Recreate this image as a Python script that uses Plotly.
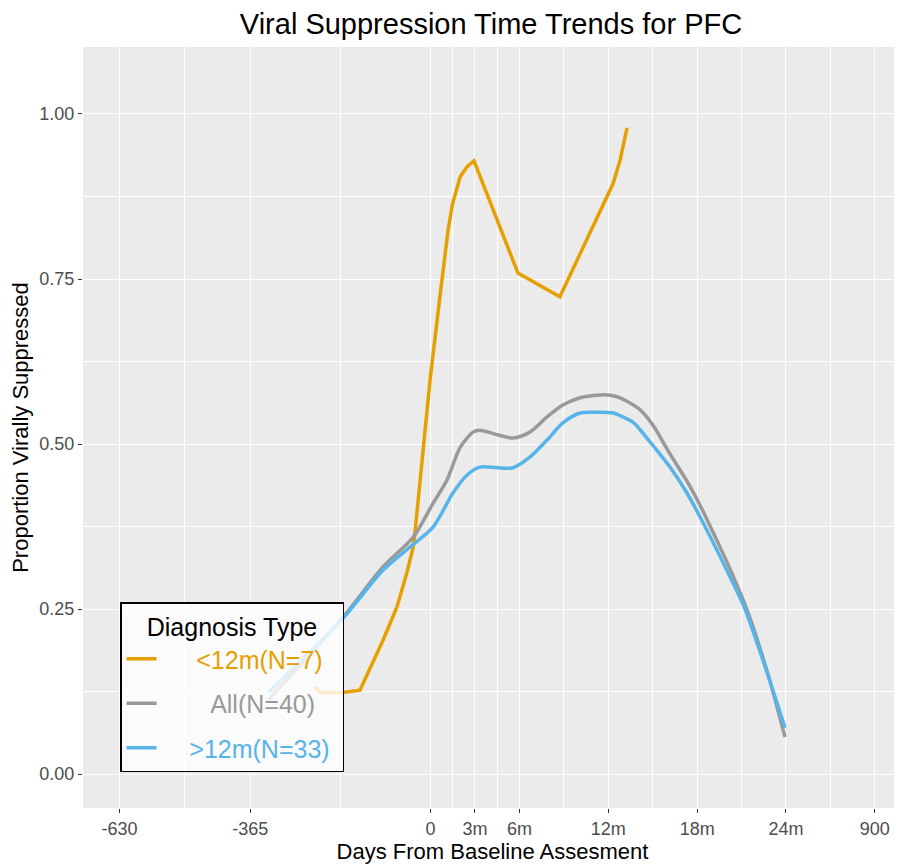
import plotly.graph_objects as go

# ---- data ----
days_lt12 = [-234, -222, -182, -143, -96, -68, -48, -35, -31, -17, -1, 19, 35.5, 44, 50, 60, 74, 88, 177, 262, 370, 384, 398]
prop_lt12 = [0.132, 0.123, 0.123, 0.127, 0.203, 0.253, 0.305, 0.344, 0.370, 0.471, 0.597, 0.723, 0.824, 0.862, 0.880, 0.905, 0.920, 0.929, 0.759, 0.723, 0.895, 0.930, 0.979]

days_all = [-329, -177, -96, -35, 5, 33, 60, 86, 100, 135, 167, 201, 236, 268, 303, 337, 364, 384, 424, 451, 471, 485, 520, 546, 566, 607, 643, 682, 718]
prop_all = [0.112, 0.238, 0.314, 0.359, 0.410, 0.445, 0.495, 0.518, 0.521, 0.514, 0.509, 0.518, 0.541, 0.559, 0.570, 0.574, 0.574, 0.570, 0.552, 0.528, 0.503, 0.485, 0.443, 0.407, 0.376, 0.310, 0.245, 0.155, 0.056]

days_gt12 = [-329, -181, -96, -41.5, 5, 45.6, 74, 100, 135, 167, 201, 236, 268, 303, 337, 370, 384, 410, 424, 448, 485, 520, 556, 607, 637, 682, 718]
prop_gt12 = [0.123, 0.233, 0.309, 0.344, 0.374, 0.426, 0.453, 0.465, 0.464, 0.464, 0.480, 0.506, 0.532, 0.547, 0.548, 0.547, 0.543, 0.533, 0.522, 0.500, 0.465, 0.425, 0.375, 0.298, 0.250, 0.153, 0.070]

series_names = ["<12m(N=7)", "All(N=40)", ">12m(N=33)"]
series_colors = ["#E69F00", "#999999", "#56B4E9"]
series_shapes = ["linear", "spline", "spline"]

x_tickvals = [-630, -365, 0, 90, 180, 360, 540, 720, 900]
x_ticktext = ["-630", "-365", "0", "3m", "6m", "12m", "18m", "24m", "900"]
x_minor = [-497.5, -182.5, 45, 135, 270, 450, 630, 810]
y_tickvals = [0, 0.25, 0.5, 0.75, 1.0]
y_ticktext = ["0.00", "0.25", "0.50", "0.75", "1.00"]
y_minor = [0.125, 0.375, 0.625, 0.875]

FONT = "Liberation Sans, Arial, sans-serif"

def esc(s):
    return s.replace("<", "&lt;").replace(">", "&gt;")

lead = [5, 7, 4]
trail = [0, 0, 1]
fig = go.Figure()
for i, (xs, ys) in enumerate([(days_lt12, prop_lt12), (days_all, prop_all), (days_gt12, prop_gt12)]):
    label = ("&nbsp;" * lead[i] + f'<span style="color:{series_colors[i]}">{esc(series_names[i])}</span>'
             + "&nbsp;" * trail[i])
    fig.add_trace(go.Scatter(
        x=xs, y=ys, mode="lines", name=label,
        line=dict(color=series_colors[i], width=3.5, shape=series_shapes[i], smoothing=0.8),
        legendgroup=f"g{i}",
    ))

# page body has an 8px margin: figure coordinates = screenshot coordinates - 8
OFF = 8
W, H = 902 - OFF, 867 - OFF
L, R, T, B = 83 - OFF, 902 - OFF, 47 - OFF, 808 - OFF
fig.update_layout(
    width=W, height=H,
    margin=dict(l=L, r=W - R, t=T, b=H - B, autoexpand=False),
    paper_bgcolor="white",
    plot_bgcolor="#EBEBEB",
    font=dict(family=FONT, color="#000000"),
    title=dict(text="Viral Suppression Time Trends for PFC", xref="container", x=(491 - OFF) / W, xanchor="center",
               yref="container", y=1 - (24 - OFF) / H, yanchor="middle", font=dict(size=29, color="#000000")),
    showlegend=True,
    legend=dict(
        x=(120 - OFF - L) / (R - L), y=(B - (602 - OFF)) / (B - T),
        xanchor="left", yanchor="top",
        bgcolor="rgba(255,255,255,0.8)", bordercolor="#000000", borderwidth=1.5,
        font=dict(size=25, family=FONT),
        title=dict(text="Diagnosis Type", side="top center", font=dict(size=25, color="#000000")),
        traceorder="grouped", tracegroupgap=9,
    ),
    xaxis=dict(
        range=[-704, 955], tickmode="array", tickvals=x_tickvals, ticktext=x_ticktext,
        showgrid=True, gridcolor="white", gridwidth=1.3, zeroline=False, automargin=False,
        ticks="outside", ticklen=4, tickcolor="#333333", tickwidth=1,
        tickfont=dict(size=18, color="#4D4D4D"),
        minor=dict(tickmode="array", tickvals=x_minor, showgrid=True, gridcolor="white", gridwidth=0.6, ticks=""),
        title=dict(text="Days From Baseline Assesment", font=dict(size=22, color="#000000"), standoff=4),
        showline=False,
    ),
    yaxis=dict(
        range=[-0.0515, 1.1015], tickmode="array", tickvals=y_tickvals, ticktext=y_ticktext,
        showgrid=True, gridcolor="white", gridwidth=1.3, zeroline=False, automargin=False,
        ticks="outside", ticklen=4, tickcolor="#333333", tickwidth=1,
        tickfont=dict(size=18, color="#4D4D4D"),
        minor=dict(tickmode="array", tickvals=y_minor, showgrid=True, gridcolor="white", gridwidth=0.6, ticks=""),
        title=dict(text="Proportion Virally Suppressed", font=dict(size=22, color="#000000"), standoff=4),
        showline=False,
    ),
)

fig.write_html("out.html")
